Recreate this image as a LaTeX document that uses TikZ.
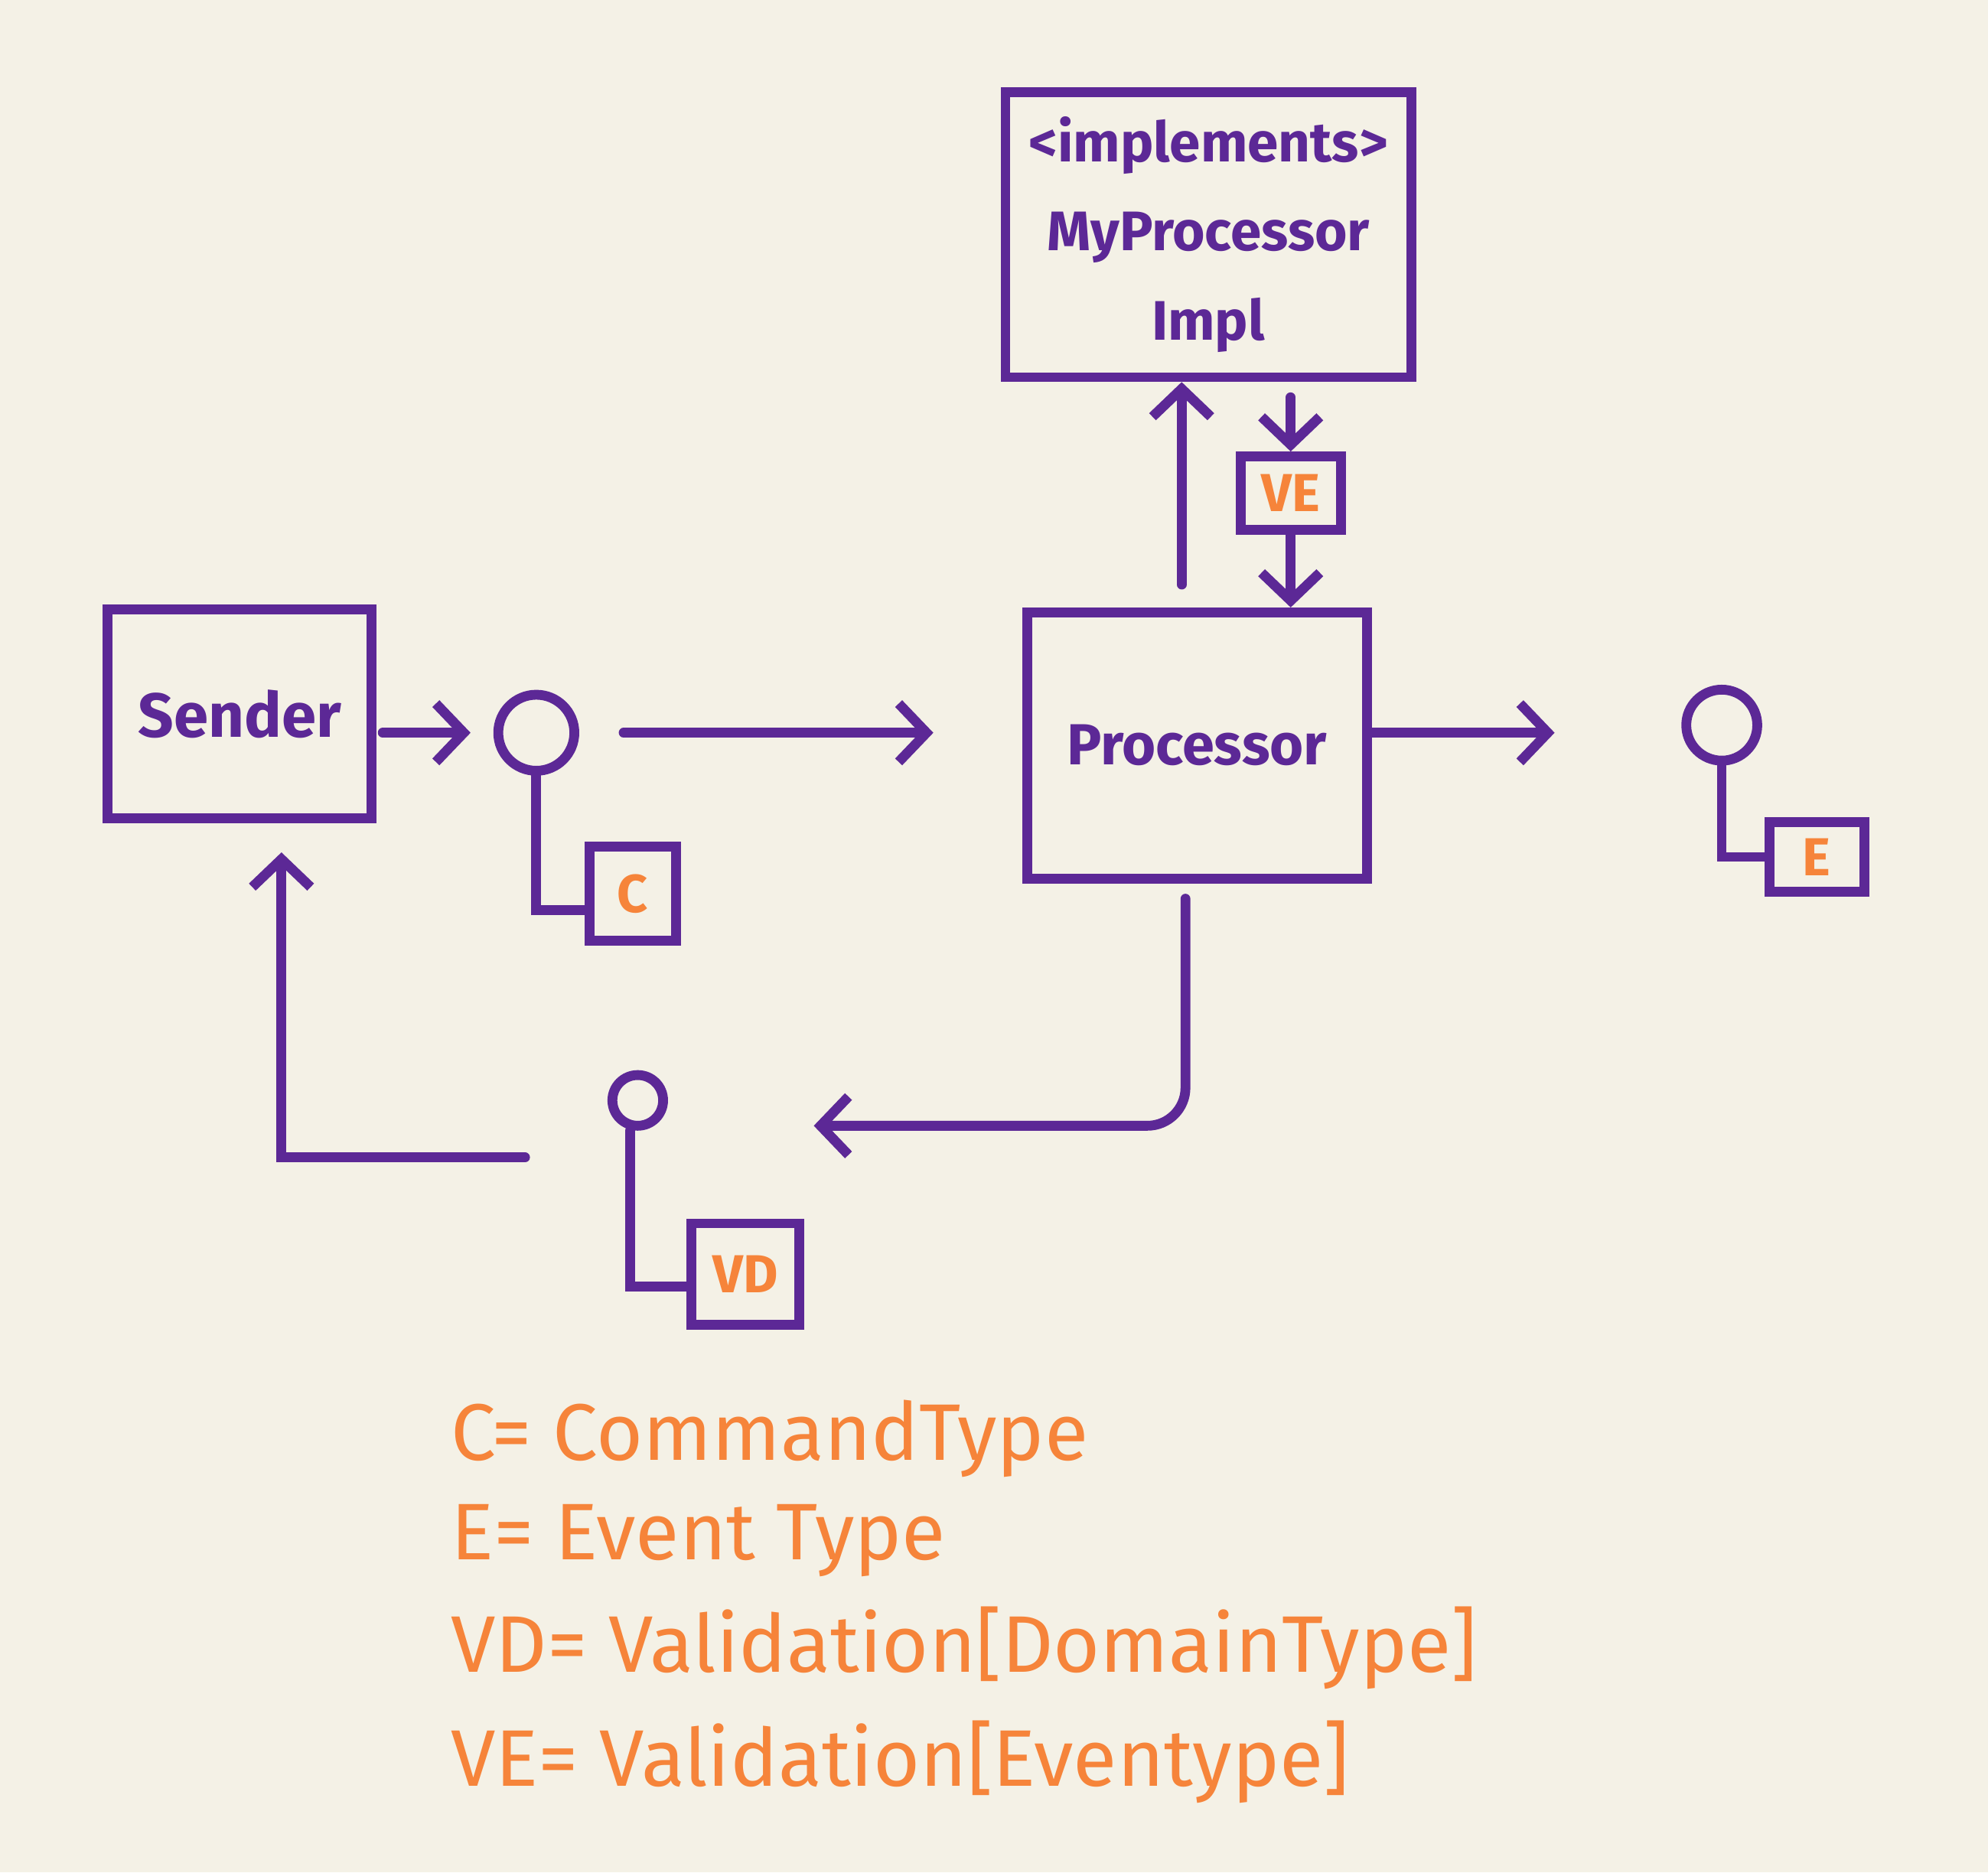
\documentclass[tikz,border=0pt]{standalone}
\usepackage{fontspec}
\setmainfont{Fira Sans}
\usetikzlibrary{arrows.meta,positioning}

\definecolor{board}{RGB}{244,241,230}
\definecolor{pen}{RGB}{92,40,150}
\definecolor{marker}{RGB}{246,132,58}

\begin{document}
\begin{tikzpicture}

		\tikzstyle{box}=[rectangle,draw=pen,line width=2.2pt,
			inner sep=1mm,align=center,text=pen,font=\bfseries]
		\tikzstyle{pin}=[circle,draw=pen,line width=2.2pt,inner sep=0pt]
		\tikzstyle{tag}=[rectangle,draw=pen,line width=2.2pt,inner sep=0pt,
			text=marker,font=\bfseries\large]
		\tikzstyle{wire}=[draw=pen,line width=2.2pt,line cap=round,
			>={Straight Barb[length=2.2mm,width=4.6mm]}]
		\tikzstyle{legend}=[anchor=west,text=marker,inner sep=0pt,
			font=\fontsize{18}{22}\selectfont]

		\fill[board] (0,0) rectangle (15.68,-14.77);
		\useasboundingbox (0,0) rectangle (15.68,-14.77);

		% main boxes
		\node[box,minimum width=2.08cm,minimum height=1.65cm,font=\bfseries\fontsize{14}{17}\selectfont] (sender) at (1.89,-5.63) {Sender};
		\node[box,minimum width=2.68cm,minimum height=2.10cm,font=\bfseries\fontsize{13}{16}\selectfont] (proc) at (9.44,-5.88) {Processor};
		\node[box,minimum width=3.20cm,minimum height=2.25cm,font=\bfseries\fontsize{12.5}{20}\selectfont] (impl) at (9.53,-1.85) {<implements>\\MyProcessor\\Impl};
		\node[tag,minimum width=0.79cm,minimum height=0.58cm] (ve) at (10.18,-3.89) {VE};

		% typed pins
		\node[pin,minimum size=0.60cm] (c) at (4.23,-5.78) {};
		\node[tag,minimum width=0.68cm,minimum height=0.74cm] (cbox) at (4.99,-7.05) {C};
		\node[pin,minimum size=0.56cm] (e) at (13.58,-5.72) {};
		\node[tag,minimum width=0.75cm,minimum height=0.55cm] (ebox) at (14.33,-6.76) {E};
		\node[pin,minimum size=0.40cm] (vd) at (5.03,-8.68) {};
		\node[tag,minimum width=0.85cm,minimum height=0.80cm] (vdbox) at (5.88,-10.05) {VD};

		\draw[wire] (c.south) |- ([yshift=-0.13cm]cbox.west);
		\draw[wire] (e.south) |- (ebox.west);
		\draw[wire] ([xshift=-0.06cm]vd.south) |- ([yshift=-0.1cm]vdbox.west);

		% flow
		\draw[wire,->,shorten <=0.05cm,shorten >=0.18cm] (sender.east |- c.west) -- (c.west);
		\draw[wire,->,shorten <=0.35cm,shorten >=0.70cm] (c.east) -- (c.east -| proc.west);
		\draw[wire,->,shorten >=1.0cm] (proc.east |- c.east) -- (c.east -| e.west);
		\draw[wire,->,shorten <=0.18cm] ([xshift=-0.12cm]proc.north) -- ([xshift=-0.12cm]proc.north |- impl.south);
		\draw[wire,->,shorten <=0.12cm] (impl.south -| ve.north) -- (ve.north);
		\draw[wire,->] (ve.south) -- (ve.south |- proc.north);
		\draw[wire,->,rounded corners=0.3cm,shorten <=0.12cm,shorten >=1.15cm] ([xshift=-0.09cm]proc.south) |- ([yshift=-0.2cm]vd.east);
		\draw[wire,->,shorten <=0.65cm,shorten >=0.23cm] ([yshift=-0.45cm]vd.west) -| ([xshift=0.33cm]sender.south);

		% key
		\node[legend] (kc)  at (3.55,-11.35) {C= CommandType};
		\node[legend] (ke)  at (3.55,-12.15) {E= Event Type};
		\node[legend] (kvd) at (3.55,-13.00) {VD= Validation[DomainType]};
		\node[legend] (kve) at (3.55,-13.90) {VE= Validation[Eventype]};

\end{tikzpicture}
\end{document}
